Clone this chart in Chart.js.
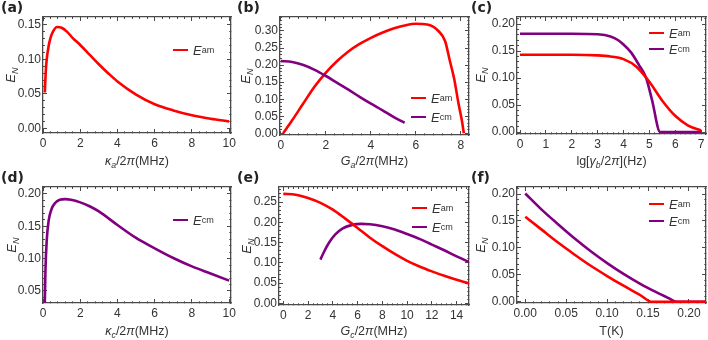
<!DOCTYPE html>
<html>
<head>
<meta charset="utf-8">
<script src="https://cdn.jsdelivr.net/npm/chart.js@4.4.1/dist/chart.umd.min.js"></script>
<style>
  html, body { margin: 0; padding: 0; background: #fff; }
  #wrap { position: relative; width: 708px; height: 340px; overflow: hidden;
          font-family: 'Liberation Sans', Arial, sans-serif; color: #333; }
  canvas { position: absolute; }
  .plab { position: absolute; font: bold 14px 'DejaVu Sans', sans-serif; color: #222; }
  .xt { position: absolute; text-align: center; font-size: 12.5px; line-height: 14px; white-space: nowrap; }
  .yt { position: absolute; font-size: 13px; white-space: nowrap; transform: translate(-50%, -50%) rotate(-90deg); }
  .leg { position: absolute; height: 16px; display: flex; align-items: center; font-size: 13px; white-space: nowrap; }
  .leg .sw { display: inline-block; width: 15px; height: 2px; margin-right: 5px; }
  sub { font-size: 70%; vertical-align: -3px; line-height: 0; }
</style>
</head>
<body>
<div id="wrap">
  <canvas id="ca"></canvas><canvas id="cb"></canvas><canvas id="cc"></canvas>
  <canvas id="cd"></canvas><canvas id="ce"></canvas><canvas id="cf"></canvas>

  <div class="plab" style="left:1px;top:-1px">(a)</div>
  <div class="plab" style="left:237px;top:-1px">(b)</div>
  <div class="plab" style="left:471px;top:-1px">(c)</div>
  <div class="plab" style="left:1px;top:169px">(d)</div>
  <div class="plab" style="left:237px;top:169px">(e)</div>
  <div class="plab" style="left:471px;top:169px">(f)</div>

  <div class="xt" style="left:43px;width:188px;top:154px"><i>κ</i><sub><i>a</i></sub>/2<i>π</i>(MHz)</div>
  <div class="xt" style="left:280px;width:189px;top:154px"><i>G</i><sub><i>a</i></sub>/2<i>π</i>(MHz)</div>
  <div class="xt" style="left:517px;width:189px;top:154px">lg[<i>γ</i><sub><i>b</i></sub>/2<i>π</i>](Hz)</div>
  <div class="xt" style="left:43px;width:188px;top:324px"><i>κ</i><sub><i>c</i></sub>/2<i>π</i>(MHz)</div>
  <div class="xt" style="left:279px;width:190px;top:324px"><i>G</i><sub><i>c</i></sub>/2<i>π</i>(MHz)</div>
  <div class="xt" style="left:517px;width:189px;top:324px">T(K)</div>

  <div class="yt" style="left:10px;top:75px"><i>E</i><sub><i>N</i></sub></div>
  <div class="yt" style="left:245px;top:76px"><i>E</i><sub><i>N</i></sub></div>
  <div class="yt" style="left:480px;top:75px"><i>E</i><sub><i>N</i></sub></div>
  <div class="yt" style="left:11px;top:245px"><i>E</i><sub><i>N</i></sub></div>
  <div class="yt" style="left:246px;top:246px"><i>E</i><sub><i>N</i></sub></div>
  <div class="yt" style="left:480px;top:245px"><i>E</i><sub><i>N</i></sub></div>

  <div class="leg" style="left:173px;top:42px"><span class="sw" style="background:#ff0000"></span><i>E</i><sub>am</sub></div>
  <div class="leg" style="left:411px;top:90px"><span class="sw" style="background:#ff0000"></span><i>E</i><sub>am</sub></div>
  <div class="leg" style="left:411px;top:109px"><span class="sw" style="background:#800080"></span><i>E</i><sub>cm</sub></div>
  <div class="leg" style="left:649px;top:25px"><span class="sw" style="background:#ff0000"></span><i>E</i><sub>am</sub></div>
  <div class="leg" style="left:649px;top:41px"><span class="sw" style="background:#800080"></span><i>E</i><sub>cm</sub></div>
  <div class="leg" style="left:173px;top:212px"><span class="sw" style="background:#800080"></span><i>E</i><sub>cm</sub></div>
  <div class="leg" style="left:412px;top:200px"><span class="sw" style="background:#ff0000"></span><i>E</i><sub>am</sub></div>
  <div class="leg" style="left:412px;top:219px"><span class="sw" style="background:#800080"></span><i>E</i><sub>cm</sub></div>
  <div class="leg" style="left:649px;top:196px"><span class="sw" style="background:#ff0000"></span><i>E</i><sub>am</sub></div>
  <div class="leg" style="left:649px;top:213px"><span class="sw" style="background:#800080"></span><i>E</i><sub>cm</sub></div>
</div>

<script>
// ---- data ----
// (a) E_am vs kappa_a/2pi
const aX = [0.1, 0.15, 0.2, 0.3, 0.4, 0.55, 0.75, 1.0, 1.3, 1.6, 2, 2.5, 3, 3.5, 4, 5, 6, 7, 8, 9, 10];
const aAm = [0.052, 0.083, 0.100, 0.119, 0.131, 0.141, 0.147, 0.146, 0.140, 0.131, 0.121, 0.107, 0.093, 0.080, 0.068, 0.049, 0.035, 0.026, 0.019, 0.014, 0.010];

// (b) vs G_a/2pi
const bAmX = [0.1, 0.5, 1, 1.5, 2, 2.5, 3, 3.5, 4, 4.5, 5, 5.5, 6, 6.5, 7, 7.3, 7.5, 7.7, 7.9, 8.05, 8.13];
const bAm = [0.0, 0.038, 0.088, 0.137, 0.178, 0.212, 0.240, 0.262, 0.280, 0.295, 0.307, 0.316, 0.321, 0.319, 0.300, 0.270, 0.215, 0.160, 0.085, 0.035, 0.0];
const bCmX = [0, 0.5, 1, 1.5, 2, 2.5, 3, 3.5, 4, 4.5, 5, 5.5];
const bCm = [0.212, 0.209, 0.200, 0.186, 0.168, 0.148, 0.128, 0.107, 0.087, 0.068, 0.048, 0.031];

// (c) vs lg[gamma_b/2pi]
const cAmX = [0, 1, 2, 3, 3.5, 4, 4.5, 5, 5.5, 6, 6.5, 7];
const cAm = [0.143, 0.143, 0.143, 0.142, 0.140, 0.135, 0.121, 0.093, 0.058, 0.030, 0.012, 0.003];
const cCmX = [0, 1, 2, 3, 3.5, 3.8, 4.0, 4.3, 4.6, 4.87, 5.1, 5.42, 6, 7];
const cCm = [0.182, 0.182, 0.182, 0.181, 0.177, 0.170, 0.162, 0.147, 0.124, 0.101, 0.060, 0.0, 0.0, 0.0];

// (d) E_cm vs kappa_c/2pi
const dX = [0.09, 0.13, 0.2, 0.3, 0.45, 0.65, 0.9, 1.2, 1.5, 2, 2.5, 3, 4, 5, 6, 7, 8, 9, 10];
const dCm = [0.02, 0.08, 0.128, 0.158, 0.176, 0.186, 0.191, 0.192, 0.191, 0.187, 0.181, 0.173, 0.152, 0.132, 0.116, 0.101, 0.088, 0.077, 0.066];

// (e) vs G_c/2pi
const eAmX = [0, 1, 2, 3, 4, 5, 6, 7, 8, 9, 10, 11, 12, 13, 14, 15];
const eAm = [0.270, 0.268, 0.260, 0.248, 0.231, 0.209, 0.186, 0.162, 0.141, 0.122, 0.105, 0.091, 0.079, 0.068, 0.058, 0.049];
const eCmX = [3, 3.3, 3.7, 4.2, 4.8, 5.5, 6.3, 7, 8, 9, 10, 11, 12, 13, 14, 15];
const eCm = [0.108, 0.128, 0.150, 0.170, 0.185, 0.193, 0.196, 0.195, 0.190, 0.182, 0.171, 0.159, 0.145, 0.131, 0.116, 0.102];

// (f) vs T(K)
const fAmX = [0, 0.02, 0.04, 0.06, 0.08, 0.10, 0.12, 0.14, 0.155, 0.221];
const fAm = [0.158, 0.134, 0.110, 0.088, 0.067, 0.048, 0.030, 0.013, 0.0, 0.0];
const fCmX = [0, 0.02, 0.04, 0.06, 0.08, 0.10, 0.12, 0.14, 0.16, 0.175, 0.185, 0.221];
const fCm = [0.201, 0.171, 0.144, 0.118, 0.094, 0.072, 0.052, 0.034, 0.018, 0.007, 0.0, 0.0];

// tick labels
const ticksX = {
  a: [0, 2, 4, 6, 8, 10], b: [0, 2, 4, 6, 8], c: [0, 1, 2, 3, 4, 5, 6, 7],
  d: [0, 2, 4, 6, 8, 10], e: [0, 2, 4, 6, 8, 10, 12, 14], f: [0, 0.05, 0.10, 0.15, 0.20]
};
const ticksY = {
  a: [0, 0.05, 0.10, 0.15], b: [0, 0.05, 0.10, 0.15, 0.20, 0.25, 0.30],
  c: [0, 0.05, 0.10, 0.15, 0.20], d: [0.05, 0.10, 0.15, 0.20],
  e: [0, 0.05, 0.10, 0.15, 0.20, 0.25], f: [0, 0.05, 0.10, 0.15, 0.20]
};

// ---- styling ----
const RED = '#ff0000';
const PURPLE = '#800080';
const FRAME_COLOR = '#4a4a4a';
const TXT = '#333';
const FONT = "'Liberation Sans', Arial, sans-serif";

// panel boxes: canvas position and plot frame (page pixels), axis ranges
const PANELS = {
  a: { px: 0,   py: 0,   pw: 236, ph: 170, L: 43,  R: 231, T: 17,  B: 133, xr: [0, 10.1],       yr: [-0.0068, 0.1616], xd: 0 },
  b: { px: 236, py: 0,   pw: 234, ph: 170, L: 280, R: 469, T: 17,  B: 135, xr: [-0.04, 8.36],   yr: [-0.005, 0.341],   xd: 0 },
  c: { px: 470, py: 0,   pw: 238, ph: 170, L: 517, R: 706, T: 17,  B: 134, xr: [-0.116, 7.19],  yr: [-0.0037, 0.213],  xd: 0 },
  d: { px: 0,   py: 170, pw: 236, ph: 170, L: 43,  R: 231, T: 187, B: 303, xr: [0, 10.1],       yr: [0.0314, 0.2108],  xd: 0 },
  e: { px: 236, py: 170, pw: 234, ph: 170, L: 279, R: 469, T: 187, B: 305, xr: [-0.35, 15.0],   yr: [-0.004, 0.287],   xd: 0 },
  f: { px: 470, py: 170, pw: 238, ph: 170, L: 517, R: 706, T: 187, B: 303, xr: [-0.0101, 0.2208], yr: [-0.002, 0.213], xd: 2 }
};

const pts = (xs, ys) => xs.map((x, i) => ({ x: x, y: ys[i] }));

function curve(xs, ys, color) {
  return {
    data: pts(xs, ys),
    borderColor: color,
    borderWidth: 2.6,
    pointRadius: 0,
    fill: false,
    cubicInterpolationMode: 'monotone'
  };
}

// labelled ticks plus 4 unlabelled minor ticks per interval, kept inside the range
function tickList(major, lo, hi) {
  const d = (major[1] - major[0]) / 5;
  const out = major.map(v => ({ value: v, minor: false }));
  for (let k = -5; k <= (major.length + 5) * 5; k++) {
    const v = major[0] + k * d;
    if (k % 5 === 0 || v < lo || v > hi) continue;
    out.push({ value: v, minor: true });
  }
  return out.sort((p, q) => p.value - q.value);
}

// frame side: border plus inward ticks (minor ticks cut short with a dash)
function frameSide(position, range, major, minorDash, extra) {
  return Object.assign({
    type: 'linear', position: position, min: range[0], max: range[1],
    border: { display: true, color: FRAME_COLOR, width: 1.3 },
    grid: {
      display: true, drawOnChartArea: false, drawTicks: true, tickLength: -4,
      color: FRAME_COLOR, tickColor: FRAME_COLOR, tickWidth: 1,
      tickBorderDash: c => (c.tick && c.tick.minor ? minorDash : [])
    },
    afterBuildTicks: s => { s.ticks = tickList(major, range[0], range[1]); }
  }, extra);
}

function makePanel(key, datasets) {
  const g = PANELS[key];
  const cv = document.getElementById('c' + key);
  cv.width = g.pw; cv.height = g.ph;
  cv.style.left = g.px + 'px'; cv.style.top = g.py + 'px';
  const yW = g.L - g.px;
  const xH = g.py + g.ph - g.B;
  const tickFont = { family: FONT, size: 12 };
  return new Chart(cv.getContext('2d'), {
    type: 'line',
    data: { datasets: datasets },
    options: {
      responsive: false,
      animation: false,
      events: [],
      layout: { autoPadding: false, padding: { left: 0, top: g.T - g.py, right: g.px + g.pw - g.R, bottom: 0 } },
      plugins: { legend: { display: false }, tooltip: { enabled: false } },
      scales: {
        x: frameSide('bottom', g.xr, ticksX[key], [2, 20], {
          afterFit: s => { s.height = xH; s.paddingLeft = 0; s.paddingRight = 0; },
          ticks: {
            padding: 7, color: TXT, maxRotation: 0, autoSkip: false, font: tickFont,
            callback: (v, i, t) => (t[i].minor ? '' : v.toFixed(g.xd))
          }
        }),
        x2: frameSide('top', g.xr, ticksX[key], [0, 2, 2, 20], {
          afterFit: s => { s.height = 0; s.paddingLeft = 0; s.paddingRight = 0; },
          ticks: { display: false }
        }),
        y: frameSide('left', g.yr, ticksY[key], [0, 2, 2, 20], {
          afterFit: s => { s.width = yW; s.paddingTop = 0; s.paddingBottom = 0; },
          ticks: {
            padding: 6, color: TXT, autoSkip: false, font: tickFont,
            callback: (v, i, t) => (t[i].minor ? '' : v.toFixed(2))
          }
        }),
        y2: frameSide('right', g.yr, ticksY[key], [2, 20], {
          afterFit: s => { s.width = 0; s.paddingTop = 0; s.paddingBottom = 0; },
          ticks: { display: false }
        })
      }
    }
  });
}

makePanel('a', [curve(aX, aAm, RED)]);
makePanel('b', [curve(bCmX, bCm, PURPLE), curve(bAmX, bAm, RED)]);
makePanel('c', [curve(cAmX, cAm, RED), curve(cCmX, cCm, PURPLE)]);
makePanel('d', [curve(dX, dCm, PURPLE)]);
makePanel('e', [curve(eAmX, eAm, RED), curve(eCmX, eCm, PURPLE)]);
makePanel('f', [curve(fAmX, fAm, RED), curve(fCmX, fCm, PURPLE)]);
</script>
</body>
</html>
